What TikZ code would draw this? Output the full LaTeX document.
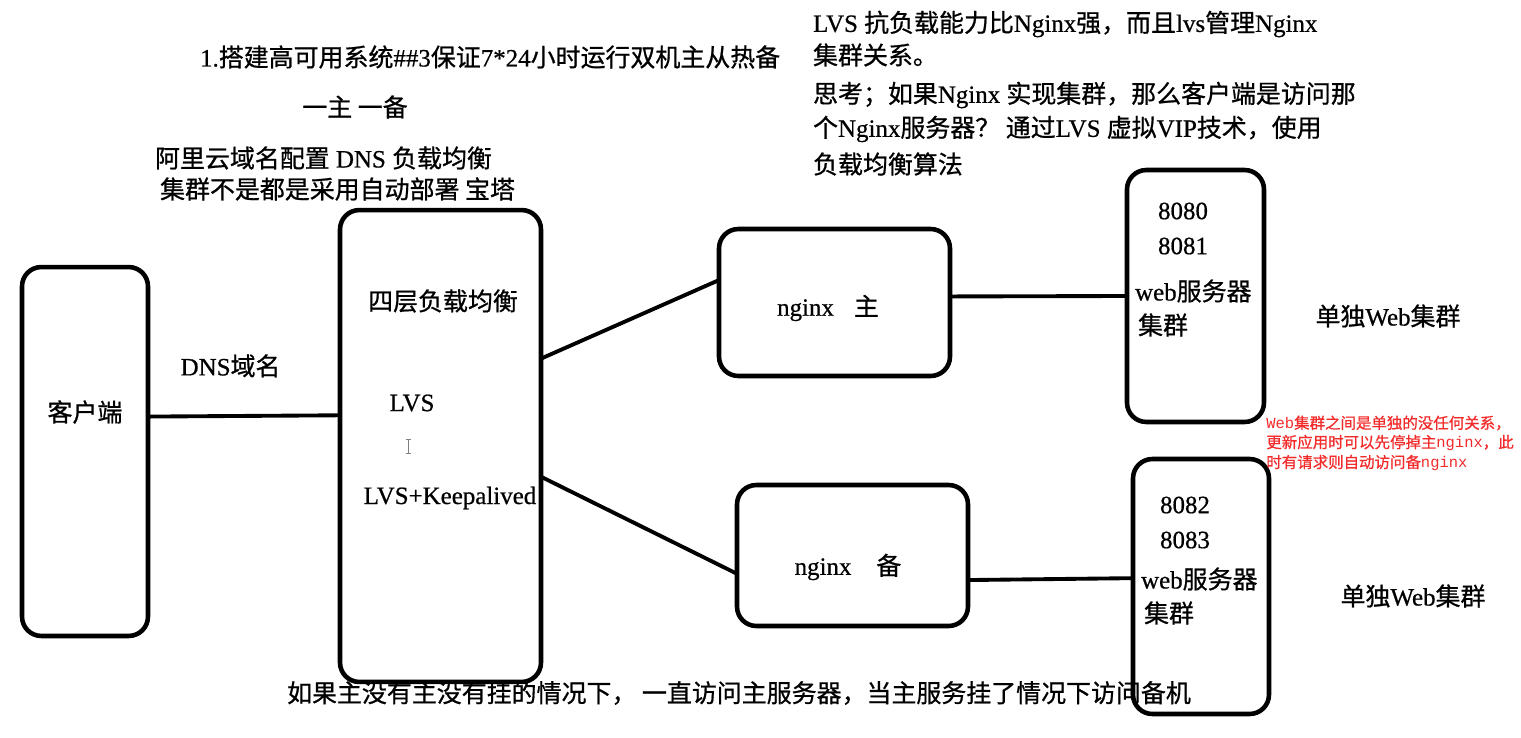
\documentclass[tikz,border=0pt]{standalone}
\usepackage{fontspec}
\setmainfont{Liberation Serif}[FakeBold=0.6]
\newfontfamily\cjk{Noto Sans CJK SC}[FakeBold=0.8]
\newfontfamily\consolefont{Liberation Mono}
\usepackage{xcolor}
\definecolor{notered}{HTML}{F22B2B}
\newcommand{\zh}[1]{{\cjk #1}}
\newcommand{\con}[1]{{\consolefont #1}}

\begin{document}
\begin{tikzpicture}[x=0.02cm, y=-0.02cm,
  box/.style={draw, rounded corners=11pt, line width=2.6pt, inner sep=0pt, outer sep=0pt},
  link/.style={line width=2.2pt},
  txt/.style={font=\fontsize{14.2}{17}\selectfont, inner sep=1pt},
  note/.style={txt, anchor=west},
  redtxt/.style={font=\fontsize{8.8}{11}\selectfont, text=notered, anchor=west, inner sep=0pt},
]
  \useasboundingbox (0,0) rectangle (1521,737);

  % notes above
  \node[note] (title) at (198,57) {1.\zh{搭建高可用系统}\#\#3\zh{保证}7*24\zh{小时运行双机主从热备}};
  \node[txt] (pair) at (355,107) {\zh{一主 一备}};
  \node[note] (aliyun) at (153,158) {\zh{阿里云域名配置} DNS \zh{负载均衡}};
  \node[note] (deploy) at (158,189) {\zh{集群不是都是采用自动部署 宝塔}};

  \node[note] (why1) at (811,24) {LVS \zh{抗负载能力比}Nginx\zh{强，而且}lvs\zh{管理}Nginx};
  \node[note] (why2) at (811,55) {\zh{集群关系。}};
  \node[note] (why3) at (811,95) {\zh{思考；如果}Nginx \zh{实现集群，那么客户端是访问那}};
  \node[note] (why4) at (811,129) {\zh{个}Nginx\zh{服务器？ 通过}LVS \zh{虚拟}VIP\zh{技术，使用}};
  \node[note] (why5) at (811,164) {\zh{负载均衡算法}};

  \node[note] (fallback) at (285,693) {\zh{如果主没有主没有挂的情况下， 一直访问主服务器，当主服务挂了情况下访问备机}};

  % boxes
  \node[box, minimum width=2.52cm, minimum height=7.38cm] (client) at (85,451.5) {};
  \node[box, minimum width=4.02cm, minimum height=9.44cm] (lvs) at (440.5,446) {};
  \node[box, minimum width=4.62cm, minimum height=2.94cm] (master) at (834.5,302.5) {};
  \node[box, minimum width=4.62cm, minimum height=2.82cm] (backup) at (852.5,555.5) {};
  \node[box, minimum width=2.74cm, minimum height=5.04cm] (webA) at (1195.5,296) {};
  \node[box, minimum width=2.72cm, minimum height=5.1cm] (webB) at (1201,586.5) {};

  \node[txt] (clientlbl) at (85,412) {\zh{客户端}};
  \node[txt] (layer4) at (443,301) {\zh{四层负载均衡}};
  \node[txt] (lvslbl) at (412,403) {LVS};
  \node[txt] (keep) at (450,498) {LVS+Keepalived};
  \draw[gray, line width=0.5pt] (408,439) -- (408,453) (405.5,439) -- (410.5,439) (405.5,453) -- (410.5,453);

  \node[txt] (masterlbl) at (828,308) {nginx\hspace{0.8em}\zh{主}};
  \node[txt] (backuplbl) at (848,567) {nginx\hspace{1em}\zh{备}};

  \node[txt] (p8080) at (1183,211) {8080};
  \node[txt] (p8081) at (1183,246) {8081};
  \node[note] (webAlbl) at (1133,291) {web\zh{服务器}};
  \node[note] (webAcl) at (1136,325) {\zh{集群}};
  \node[txt] (p8082) at (1185,505) {8082};
  \node[txt] (p8083) at (1185,540) {8083};
  \node[note] (webBlbl) at (1139,579) {web\zh{服务器}};
  \node[note] (webBcl) at (1142,613) {\zh{集群}};

  \node[txt] (aloneA) at (1388,316) {\zh{单独}Web\zh{集群}};
  \node[txt] (aloneB) at (1413,596) {\zh{单独}Web\zh{集群}};

  \node[redtxt] (red1) at (1266,423) {\con{Web}\zh{集群之间是单独的没任何关系，}};
  \node[redtxt] (red2) at (1266,443) {\zh{更新应用时可以先停掉主}\con{nginx}\zh{，此}};
  \node[redtxt] (red3) at (1266,463) {\zh{时有请求则自动访问备}\con{nginx}};

  % links
  \draw[link] (client.29.4) -- node[txt, pos=0.43, above=0.7cm] (dnslbl) {DNS\zh{域名}} (lvs.163.4);
  \draw[link] (lvs.41.8) -- (master.169.9);
  \draw[link] (lvs.-17.1) -- (backup.-171.9);
  \draw[link] (master.3.2) -- (webA.west);
  \draw[link] (backup.-12) -- (webB.173.7);
\end{tikzpicture}
\end{document}
